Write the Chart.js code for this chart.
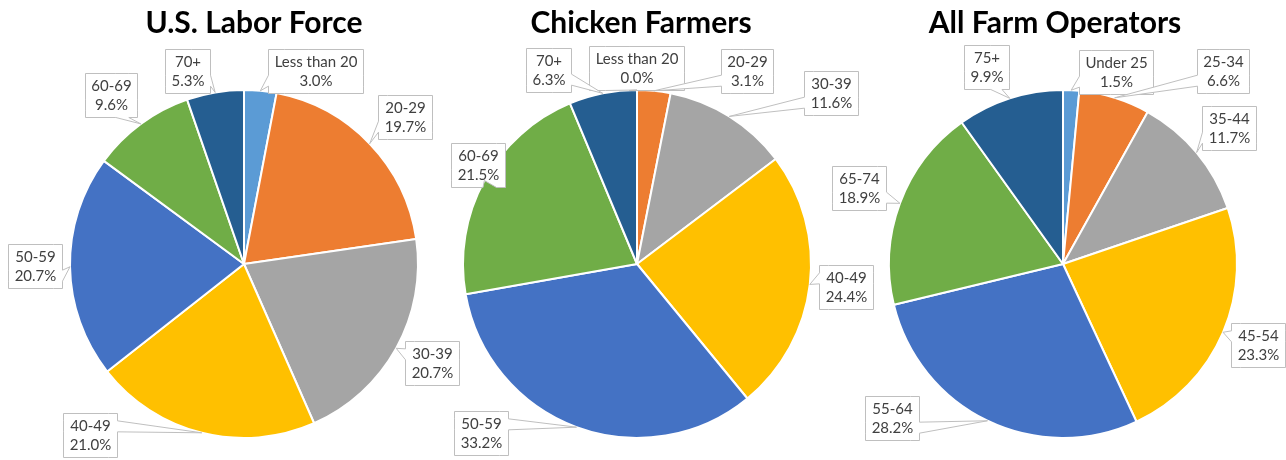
<!DOCTYPE html>
<html><head><meta charset="utf-8">
<script src="https://cdn.jsdelivr.net/npm/chart.js@4.4.1/dist/chart.umd.min.js"></script>
<style>
html,body{margin:0;padding:0;background:#fff;}
#wrap{position:relative;width:1286px;height:460px;overflow:hidden;background:#fff;}
canvas{position:absolute;left:0;top:0;}
</style></head><body>
<div id="wrap">
<canvas id="c1" width="1286" height="460"></canvas>
<canvas id="c2" width="1286" height="460"></canvas>
<canvas id="c3" width="1286" height="460"></canvas>
</div>
<script>
// ---- data ----
const laborCategories = ['Less than 20','20-29','30-39','40-49','50-59','60-69','70+'];
const laborShares = [3.0, 19.7, 20.7, 21.0, 20.7, 9.6, 5.3];
const chickenCategories = ['Less than 20','20-29','30-39','40-49','50-59','60-69','70+'];
const chickenShares = [0.0, 3.1, 11.6, 24.4, 33.2, 21.5, 6.3];
const farmCategories = ['Under 25','25-34','35-44','45-54','55-64','65-74','75+'];
const farmShares = [1.5, 6.6, 11.7, 23.3, 28.2, 18.9, 9.9];
const chartTitles = ['U.S. Labor Force', 'Chicken Farmers', 'All Farm Operators'];

// ---- style / layout ----
const sliceColors = ['#5B9BD5','#ED7D31','#A5A5A5','#FFC000','#4472C4','#70AD47','#255E91'];
const LABEL_FONT = '15px Lato';
const TITLE_FONT = 'bold 30px Lato';
const panels = [
  { id:'c1', title:chartTitles[0], titleX:254, cats:laborCategories, vals:laborShares,
    pad:{left:69,right:867,top:89,bottom:21},
    callouts:[[315,71],[405,117],[432,363],[90,435],[35,266],[111,95],[187,71]] },
  { id:'c2', title:chartTitles[1], titleX:641, cats:chickenCategories, vals:chickenShares,
    pad:{left:462,right:474,top:89,bottom:21},
    callouts:[[636,68],[747,71],[831,93],[846,287],[481,433],[478,165],[548,70]] },
  { id:'c3', title:chartTitles[2], titleX:1055, cats:farmCategories, vals:farmShares,
    pad:{left:888,right:48,top:89,bottom:21},
    callouts:[[1116,72],[1223,71],[1229,128],[1258,345],[892,418],[859,188],[986,67]] }
];

// Excel-like wedgeRectCallout path
function calloutPath(ctx, l, t, w, h, tipX, tipY) {
  const hc = l + w/2, vc = t + h/2;
  const dxPos = tipX - hc, dyPos = tipY - vc;
  const dq = dxPos * h / w;
  const dz = Math.abs(dyPos) - Math.abs(dq);
  const xg1 = dxPos > 0 ? 7 : 2, xg2 = dxPos > 0 ? 10 : 5;
  const yg1 = dyPos > 0 ? 7 : 2, yg2 = dyPos > 0 ? 10 : 5;
  const x1 = l + w*xg1/12, x2 = l + w*xg2/12;
  const y1 = t + h*yg1/12, y2 = t + h*yg2/12;
  const r = l + w, b = t + h;
  const xPos = tipX, yPos = tipY;
  const t1 = dxPos > 0 ? l : xPos;
  const xl = dz > 0 ? l : t1;
  const t2 = dyPos > 0 ? x1 : xPos;
  const xt = dz > 0 ? t2 : x1;
  const t3 = dxPos > 0 ? xPos : r;
  const xr = dz > 0 ? r : t3;
  const t4 = dyPos > 0 ? xPos : x1;
  const xb = dz > 0 ? t4 : x1;
  const t5 = dxPos > 0 ? y1 : yPos;
  const yl = dz > 0 ? y1 : t5;
  const t6 = dyPos > 0 ? t : yPos;
  const yt = dz > 0 ? t6 : t;
  const t7 = dxPos > 0 ? yPos : y1;
  const yr = dz > 0 ? y1 : t7;
  const t8 = dyPos > 0 ? yPos : b;
  const yb = dz > 0 ? t8 : b;
  ctx.beginPath();
  ctx.moveTo(l, t);
  ctx.lineTo(x1, t); ctx.lineTo(xt, yt); ctx.lineTo(x2, t);
  ctx.lineTo(r, t);
  ctx.lineTo(r, y1); ctx.lineTo(xr, yr); ctx.lineTo(r, y2);
  ctx.lineTo(r, b);
  ctx.lineTo(x2, b); ctx.lineTo(xb, yb); ctx.lineTo(x1, b);
  ctx.lineTo(l, b);
  ctx.lineTo(l, y2); ctx.lineTo(xl, yl); ctx.lineTo(l, y1);
  ctx.closePath();
}

const calloutPlugin = {
  id: 'callouts',
  afterDraw(chart, args, opts) {
    const ctx = chart.ctx;
    const meta = chart.getDatasetMeta(0);
    const labels = chart.data.labels;
    const values = chart.data.datasets[0].data;
    ctx.save();
    // title
    ctx.font = TITLE_FONT;
    ctx.fillStyle = '#000';
    ctx.textAlign = 'center';
    ctx.textBaseline = 'alphabetic';
    ctx.fillText(opts.title, opts.titleX, 33);
    ctx.font = LABEL_FONT;
    meta.data.forEach((arc, i) => {
      const p = arc.getProps(['x','y','startAngle','endAngle','outerRadius'], true);
      const mid = (p.startAngle + p.endAngle) / 2;
      const tipX = p.x + Math.cos(mid) * p.outerRadius;
      const tipY = p.y + Math.sin(mid) * p.outerRadius;
      const line1 = labels[i];
      const line2 = values[i].toFixed(1) + '%';
      const tw = Math.max(ctx.measureText(line1).width, ctx.measureText(line2).width);
      const w = Math.round(tw + 12), h = 44;
      const [cx, cy] = opts.callouts[i];
      const l = Math.round(cx - w/2) + 0.5, t = Math.round(cy - h/2) + 0.5;
      calloutPath(ctx, l, t, w, h, tipX, tipY);
      ctx.fillStyle = '#fff';
      ctx.fill();
      ctx.strokeStyle = '#BFBFBF';
      ctx.lineWidth = 1;
      ctx.stroke();
      ctx.fillStyle = '#404040';
      ctx.textAlign = 'center';
      ctx.textBaseline = 'middle';
      ctx.fillText(line1, l + w/2, t + h/2 - 9.5);
      ctx.fillText(line2, l + w/2, t + h/2 + 9.5);
    });
    ctx.restore();
  }
};

panels.forEach(p => {
  new Chart(document.getElementById(p.id), {
    type: 'pie',
    data: {
      labels: p.cats,
      datasets: [{ data: p.vals, backgroundColor: sliceColors, borderColor: '#ffffff', borderWidth: 2 }]
    },
    options: {
      responsive: false,
      animation: false,
      layout: { padding: p.pad },
      plugins: {
        legend: { display: false },
        tooltip: { enabled: false },
        title: { display: false },
        callouts: { title: p.title, titleX: p.titleX, callouts: p.callouts }
      }
    },
    plugins: [calloutPlugin]
  });
});
</script>
</body></html>
